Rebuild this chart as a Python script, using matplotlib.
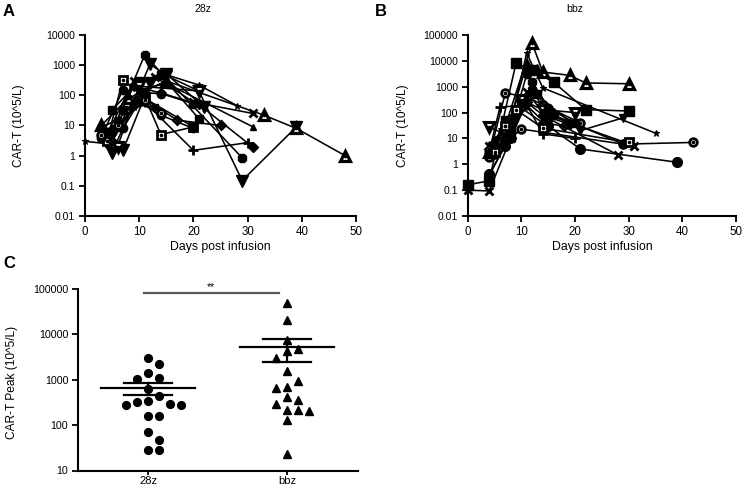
import numpy as np
import matplotlib
matplotlib.use('Agg')
import matplotlib.pyplot as plt
from matplotlib.ticker import FixedLocator, NullLocator, FuncFormatter

plt.rcParams['font.family'] = ['Liberation Sans', 'DejaVu Sans']

# ---------------- data: panel A (28z) ----------------
a_days = [
    [0, 4, 9, 14, 21, 28],
    [4, 7, 11, 14, 20],
    [3, 7, 10, 14, 20],
    [5, 11, 29],
    [5, 12, 15, 21, 29, 39],
    [3, 8, 15, 33, 39, 48],
    [4, 9, 13, 20, 31],
    [6, 10, 15, 31],
    [5, 10, 17, 25],
    [4, 11, 20, 30],
    [5, 9, 14, 21, 31],
    [5, 10, 14, 21],
    [7, 11, 20],
    [7, 11, 14, 20],
    [7, 12, 15, 22],
    [3, 6, 11, 14],
    [6, 10, 21],
    [3, 6, 9, 13],
]
a_vals = [
    [3, 2.5, 40, 550, 220, 46],
    [3, 330, 90, 5, 9],
    [4, 155, 60, 22, 8],
    [6, 2150, 0.85],
    [1.2, 1100, 450, 140, 0.15, 9],
    [10, 80, 300, 22, 8, 1],
    [5, 300, 400, 60, 25],
    [8, 150, 250, 9],
    [3, 100, 15, 10],
    [6, 60, 1.5, 2.7],
    [7, 200, 120, 50, 1.9],
    [32, 300, 460, 17],
    [32, 80, 9],
    [8, 120, 115, 53],
    [1.5, 250, 520, 40],
    [5, 10, 70, 25],
    [2, 200, 140],
    [9, 15, 50, 40],
]

# ---------------- data: panel B (bbz) ----------------
b_days = [
    [4, 7, 12, 14, 19, 22, 30],
    [0, 4, 9, 12, 16, 22, 30],
    [4, 8, 11, 14, 35],
    [4, 7, 11, 14, 21],
    [5, 8, 10, 29, 42],
    [4, 7, 10, 15, 21, 39],
    [0, 4, 8, 11, 15, 28],
    [4, 7, 12, 15, 31],
    [4, 6, 11, 14, 20],
    [4, 7, 10, 14, 20],
    [5, 8, 12, 21, 29],
    [5, 8, 11, 14, 19],
    [4, 7, 10, 13, 15],
    [5, 7, 11, 13],
    [4, 7, 10, 14, 18],
    [5, 8, 11, 16, 29],
    [4, 7, 12, 15, 20],
    [5, 7, 9, 14, 30],
]
b_vals = [
    [3, 30, 48000, 3700, 2750, 1400, 1300],
    [0.16, 0.23, 8000, 4500, 1500, 130, 115],
    [6, 40, 20000, 900, 16],
    [2, 570, 400, 200, 40],
    [2.5, 10, 23, 6, 7],
    [0.41, 5, 300, 30, 3.9, 1.2],
    [0.1, 0.093, 10, 600, 60, 2.3],
    [5, 20, 700, 80, 5.3],
    [3, 160, 200, 15, 10],
    [27, 15, 300, 130, 100],
    [4, 15, 700, 20, 63],
    [3, 10, 250, 80, 35],
    [2.5, 50, 200, 500, 100],
    [8, 12, 7500, 5000],
    [4, 8, 150, 40, 30],
    [3, 20, 3000, 80, 6],
    [0.35, 6, 1500, 150, 40],
    [3, 30, 130, 25, 7],
]

# ---------------- data: panel C (peak) ----------------
groups = ['28z', 'bbz']
peak_28z = [3050, 2200, 1430, 1120, 1020, 620, 440, 316, 280, 277, 290, 334,
            162, 160, 72, 48, 28, 29]
peak_bbz = [48600, 20300, 7700, 4200, 4800, 3050, 1550, 940, 690, 650, 410,
            290, 360, 215, 200, 220, 130, 23]

# ---------------- styles (marker, face, size, edge width, center dot) -------
a_styles = [
    ('*', 'k', 5, 0.8, False),
    ('s', 'w', 5.5, 2.0, True),
    ('o', 'k', 6, 1.0, False),
    ('8', 'k', 7, 1.0, False),
    ('v', 'k', 8, 1.0, False),
    ('^', 'w', 7, 2.3, True),
    ('x', 'k', 6, 2.0, False),
    ('^', 'k', 5, 1.0, False),
    ('D', 'w', 4.5, 2.0, True),
    ('+', 'k', 7, 2.0, False),
    ('D', 'k', 5, 1.0, False),
    ('s', 'k', 6, 1.0, False),
    ('s', 'k', 6, 1.0, False),
    ('o', 'k', 6, 1.0, False),
    ('v', 'k', 8, 1.0, False),
    ('o', 'w', 5.5, 2.0, True),
    ('v', 'w', 7, 2.2, True),
    ('s', 'k', 5, 1.0, False),
]
b_styles = [
    ('^', 'w', 7.5, 2.3, True),
    ('s', 'k', 7, 1.0, False),
    ('*', 'k', 5, 0.8, False),
    ('o', 'w', 5.5, 2.0, True),
    ('o', 'w', 5.5, 2.0, True),
    ('o', 'k', 7, 1.0, False),
    ('x', 'k', 6, 2.0, False),
    ('x', 'k', 6, 2.0, False),
    ('+', 'k', 7, 2.0, False),
    ('v', 'w', 7, 2.2, True),
    ('v', 'k', 6, 1.0, False),
    ('D', 'k', 5, 1.0, False),
    ('s', 'k', 6, 1.0, False),
    ('^', 'k', 7, 1.0, False),
    ('D', 'w', 4.5, 2.0, True),
    ('o', 'k', 6, 1.0, False),
    ('8', 'k', 6, 1.0, False),
    ('s', 'w', 5.5, 2.0, True),
]

W, H = 744, 492
fig = plt.figure(figsize=(W / 100, H / 100), dpi=100)


def fx(px):
    return px / W


def fy(py):
    return 1 - py / H


fmt = FuncFormatter(lambda v, p: f'{v:g}')


def style_ax(ax):
    for s in ['top', 'right']:
        ax.spines[s].set_visible(False)
    for s in ['left', 'bottom']:
        ax.spines[s].set_linewidth(1.5)
    ax.tick_params(axis='both', direction='out', length=4.5, width=1.3, pad=2.5)
    ax.tick_params(axis='y', labelsize=7.5)
    ax.tick_params(axis='x', labelsize=8.3)
    ax.yaxis.set_minor_locator(NullLocator())
    ax.xaxis.set_minor_locator(NullLocator())


def draw_lines(ax, days, vals, styles):
    for d, v, (m, fc, ms, mew, dot) in zip(days, vals, styles):
        ax.plot(d, v, color='k', lw=1.15, marker=m, ms=ms, mfc=fc, mec='k',
                mew=mew, clip_on=False, zorder=3)
        if dot:
            ax.plot(d, v, ls='none', marker='o', ms=1.6, color='k',
                    clip_on=False, zorder=4)


# ---------------- Panel A ----------------
axA = fig.add_axes([fx(85), fy(216), fx(356 - 85), (216 - 35) / H])
axA.set_yscale('log')
axA.set_xlim(0, 50)
axA.set_ylim(0.01, 10000)
draw_lines(axA, a_days, a_vals, a_styles)
style_ax(axA)
axA.yaxis.set_major_locator(FixedLocator([0.01, 0.1, 1, 10, 100, 1000, 10000]))
axA.yaxis.set_major_formatter(fmt)
axA.set_xticks([0, 10, 20, 30, 40, 50])
axA.text(0.5, -0.17, 'Days post infusion', transform=axA.transAxes,
         ha='center', va='center', fontsize=8.8)
axA.text(-0.245, 0.5, 'CAR-T (10^5/L)', transform=axA.transAxes, rotation=90,
         ha='center', va='center', fontsize=8.6)

# ---------------- Panel B ----------------
axB = fig.add_axes([fx(467.7), fy(216), fx(736 - 467.7), (216 - 35) / H])
axB.set_yscale('log')
axB.set_xlim(0, 50)
axB.set_ylim(0.01, 100000)
draw_lines(axB, b_days, b_vals, b_styles)
style_ax(axB)
axB.yaxis.set_major_locator(FixedLocator([0.01, 0.1, 1, 10, 100, 1000, 10000, 100000]))
axB.yaxis.set_major_formatter(fmt)
axB.set_xticks([0, 10, 20, 30, 40, 50])
axB.text(0.5, -0.17, 'Days post infusion', transform=axB.transAxes,
         ha='center', va='center', fontsize=8.8)
axB.text(-0.24, 0.5, 'CAR-T (10^5/L)', transform=axB.transAxes, rotation=90,
         ha='center', va='center', fontsize=8.6)

# ---------------- Panel C ----------------
axC = fig.add_axes([fx(78), fy(470.5), fx(358 - 78), (470.5 - 289) / H])
axC.set_yscale('log')
axC.set_ylim(10, 100000)
axC.set_xlim(-0.504, 1.511)
style_ax(axC)
axC.yaxis.set_major_locator(FixedLocator([10, 100, 1000, 10000, 100000]))
axC.yaxis.set_major_formatter(fmt)
axC.set_xticks([0, 1])
axC.set_xticklabels(groups)
axC.tick_params(axis='y', labelsize=7.7)
axC.tick_params(axis='x', length=3, pad=0.6, labelsize=8.0)


def swarm(values, center, ax, step_px=11.0, min_dist=10.0):
    vals = np.asarray(values, float)
    yd = ax.transData.transform(np.column_stack([np.zeros(len(vals)), vals]))[:, 1]
    unit = ax.transData.transform((1, 1))[0] - ax.transData.transform((0, 1))[0]
    order = np.argsort(-vals)
    placed = []
    offs = np.zeros(len(vals))
    cands = [0]
    for j in range(1, 12):
        cands += [j, -j]
    for i in order:
        for c in cands:
            x = c * step_px
            if all(np.hypot(x - px, yd[i] - py) >= min_dist for px, py in placed):
                break
        placed.append((x, yd[i]))
        offs[i] = x
    return center + offs / unit


for k, (vals, mk, ms) in enumerate([(peak_28z, 'o', 5.6), (peak_bbz, '^', 5.2)]):
    xs = swarm(vals, k, axC)
    axC.plot(xs, vals, ls='none', marker=mk, ms=ms, color='k', zorder=3,
             clip_on=False)
    arr = np.asarray(vals, float)
    mean = arr.mean()
    sem = arr.std(ddof=1) / np.sqrt(len(arr))
    axC.plot([k - 0.335, k + 0.335], [mean, mean], color='k', lw=1.6, zorder=4)
    axC.plot([k - 0.17, k + 0.17], [mean + sem, mean + sem], color='k', lw=1.6, zorder=4)
    axC.plot([k - 0.17, k + 0.17], [mean - sem, mean - sem], color='k', lw=1.6, zorder=4)
    axC.plot([k, k], [mean - sem, mean + sem], color='k', lw=1.6, zorder=4)

axC.plot([-0.03, 0.94], [80500, 80500], color='#5a5a5a', lw=1.6, clip_on=False)
axC.text(0.455, 84000, '**', ha='center', va='bottom', fontsize=7.5)
axC.text(-0.237, 0.486, 'CAR-T Peak (10^5/L)', transform=axC.transAxes,
         rotation=90, ha='center', va='center', fontsize=8.6)

# ---------------- titles and panel letters ----------------
fig.text(fx(203), fy(9), '28z', ha='center', va='center', fontsize=7.6)
fig.text(fx(575), fy(9), 'bbz', ha='center', va='center', fontsize=7.6)
fig.text(fx(3), fy(12), 'A', ha='left', va='center', fontsize=12, fontweight='bold')
fig.text(fx(375), fy(12), 'B', ha='left', va='center', fontsize=12, fontweight='bold')
fig.text(fx(3), fy(264), 'C', ha='left', va='center', fontsize=12, fontweight='bold')

fig.savefig('out.png', dpi=100)
